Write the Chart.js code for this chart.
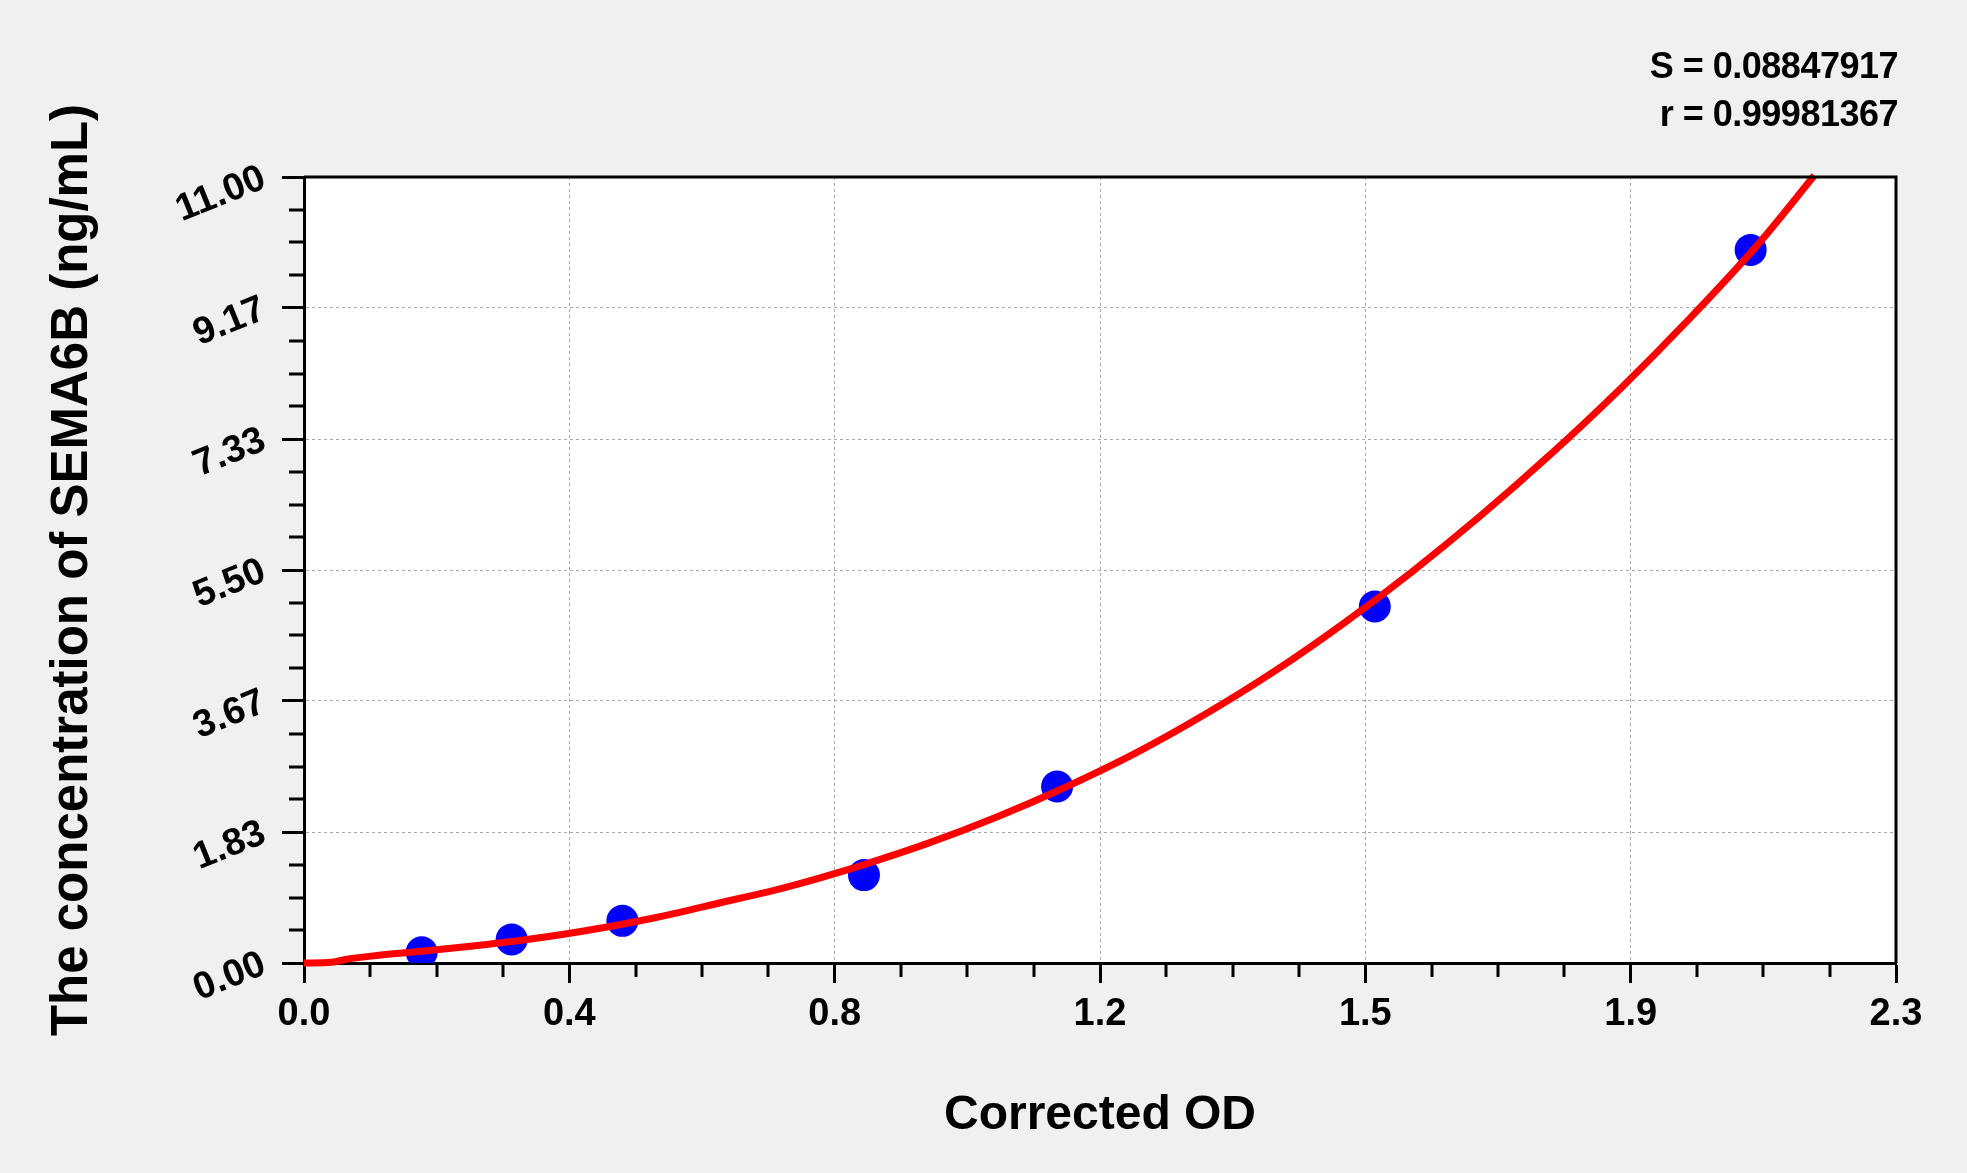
<!DOCTYPE html>
<html lang="en">
<head>
    <meta charset="UTF-8">
    <title>SEMA6B standard curve</title>
    <script src="https://cdn.jsdelivr.net/npm/chart.js"></script>
    <style>
      html, body { margin: 0; padding: 0; background: #f0f0f0; overflow: hidden; }
      canvas { display: block; }
    </style>
</head>
<body>
    <canvas id="stdCurveChart" width="1967" height="1173"></canvas>
<script>
  // standards (measured points)
  let pointOD = [0.170, 0.300, 0.460, 0.809, 1.088, 1.547, 2.090];
  let pointConc = [0.15, 0.33, 0.59, 1.23, 2.47, 4.99, 9.98];

  // fitted curve
  let curveOD = [0, 0.04, 0.06, 0.10, 0.17, 0.23, 0.30, 0.40, 0.50, 0.60, 0.70, 0.80, 0.90, 1.00, 1.10, 1.20, 1.30, 1.40, 1.50, 1.60, 1.70, 1.80, 1.90, 2.00, 2.10, 2.182];
  let curveConc = [0, 0.01, 0.05, 0.10, 0.165, 0.225, 0.30, 0.44, 0.62, 0.84, 1.07, 1.35, 1.67, 2.04, 2.46, 2.93, 3.47, 4.07, 4.74, 5.47, 6.26, 7.11, 8.02, 9.00, 10.05, 11.02];

  let xTickValues = [0, 0.38333, 0.76667, 1.15, 1.53333, 1.91667, 2.3];
  let xTickLabels = ['0.0', '0.4', '0.8', '1.2', '1.5', '1.9', '2.3'];
  let yTickValues = [0, 1.83333, 3.66667, 5.5, 7.33333, 9.16667, 11];
  let yTickLabels = ['0.00', '1.83', '3.67', '5.50', '7.33', '9.17', '11.00'];

  let statsLines = ['S = 0.08847917', 'r = 0.99981367'];

  function minorValues(major){
    let out = [];
    for (let i = 0; i < major.length - 1; i++){
      for (let k = 1; k < 4; k++){
        out.push(major[i] + (major[i+1] - major[i]) * k / 4);
      }
    }
    return out;
  }

  const frameAndExtras = {
    id: 'frameAndExtras',
    beforeDraw(chart){
      const {ctx, chartArea} = chart;
      ctx.save();
      ctx.fillStyle = '#ffffff';
      ctx.fillRect(chartArea.left, chartArea.top, chartArea.right - chartArea.left, chartArea.bottom - chartArea.top);
      ctx.restore();
    },
    afterDraw(chart){
      const {ctx, chartArea, scales} = chart;
      ctx.save();
      // box
      ctx.strokeStyle = '#000000';
      ctx.lineWidth = 3;
      ctx.beginPath();
      ctx.moveTo(chartArea.left, chartArea.top);
      ctx.lineTo(chartArea.right, chartArea.top);
      ctx.lineTo(chartArea.right, chartArea.bottom);
      ctx.stroke();
      // minor ticks
      minorValues(xTickValues).forEach((v) => {
        const px = Math.round(scales.x.getPixelForValue(v));
        ctx.beginPath();
        ctx.moveTo(px, chartArea.bottom);
        ctx.lineTo(px, chartArea.bottom + 14);
        ctx.stroke();
      });
      minorValues(yTickValues).forEach((v) => {
        const py = Math.round(scales.y.getPixelForValue(v));
        ctx.beginPath();
        ctx.moveTo(chartArea.left, py);
        ctx.lineTo(chartArea.left - 15, py);
        ctx.stroke();
      });
      // fit statistics
      ctx.fillStyle = '#000000';
      ctx.font = 'bold 36px "Liberation Sans", Arial, sans-serif';
      ctx.letterSpacing = '-0.5px';
      ctx.textAlign = 'right';
      ctx.textBaseline = 'alphabetic';
      ctx.fillText(statsLines[0], 1898, 78);
      ctx.fillText(statsLines[1], 1898, 126);
      ctx.restore();
    }
  };

  const curveData = {
    datasets: [{
      label: 'Fit',
      data: curveOD.map((x, i) => ({x: x, y: curveConc[i]})),
      showLine: true,
      borderColor: '#ff0000',
      borderWidth: 7,
      pointRadius: 0,
      cubicInterpolationMode: 'monotone',
      clip: false,
      order: 0
    }, {
      label: 'Standards',
      data: pointOD.map((x, i) => ({x: x, y: pointConc[i]})),
      backgroundColor: '#0000ff',
      borderWidth: 0,
      pointRadius: 16,
      order: 1
    }]
  };

  const tickFont = {family: '"Liberation Sans", Arial, sans-serif', size: 38, weight: 'bold'};

  const curveConfig = {
    type: 'scatter',
    data: curveData,
    options: {
      responsive: false,
      devicePixelRatio: 1,
      animation: false,
      layout: {padding: {top: 177, right: 71, left: 0, bottom: 0}},
      plugins: {legend: {display: false}, tooltip: {enabled: false}},
      scales: {
        x: {
          type: 'linear',
          min: 0,
          max: 2.3,
          afterBuildTicks: (s) => { s.ticks = xTickValues.map((v) => ({value: v})); },
          afterFit: (s) => { s.height = 210; s.paddingLeft = 0; s.paddingRight = 0; },
          ticks: {
            autoSkip: false,
            maxRotation: 0,
            padding: 9,
            color: '#000000',
            font: tickFont,
            callback: (v, i) => xTickLabels[i]
          },
          grid: {
            color: '#a8a8a8',
            lineWidth: 1,
            tickLength: 20,
            tickColor: '#000000',
            tickWidth: 3
          },
          border: {display: true, color: '#000000', width: 3, dash: [3, 3]},
          title: {
            display: true,
            text: 'Corrected OD',
            color: '#000000',
            font: {family: '"Liberation Sans", Arial, sans-serif', size: 48, weight: 'bold'},
            padding: {top: 0, bottom: 28}
          }
        },
        y: {
          type: 'linear',
          min: 0,
          max: 11,
          afterBuildTicks: (s) => { s.ticks = yTickValues.map((v) => ({value: v})); },
          afterFit: (s) => { s.width = 304; s.paddingTop = 0; s.paddingBottom = 0; },
          ticks: {
            autoSkip: false,
            minRotation: 22,
            maxRotation: 22,
            padding: 18,
            color: '#000000',
            font: tickFont,
            callback: (v, i) => yTickLabels[i]
          },
          grid: {
            color: '#a8a8a8',
            lineWidth: 1,
            tickLength: 22,
            tickColor: '#000000',
            tickWidth: 3
          },
          border: {display: true, color: '#000000', width: 3, dash: [3, 3]},
          title: {
            display: true,
            text: 'The concentration of SEMA6B (ng/mL)',
            color: '#000000',
            font: {family: '"Liberation Sans", Arial, sans-serif', size: 51, weight: 'bold'},
            padding: {top: 42, bottom: 0}
          }
        }
      }
    },
    plugins: [frameAndExtras]
  };

  var stdCurveChart = new Chart(
    document.getElementById('stdCurveChart'),
    curveConfig
  );
</script>
</body>
</html>
